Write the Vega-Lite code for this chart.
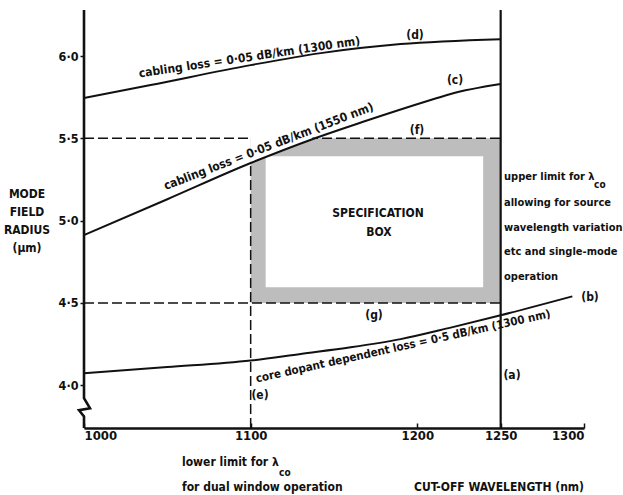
{
  "$schema": "https://vega.github.io/schema/vega-lite/v6.json",
  "width": 500,
  "height": 418,
  "autosize": {"type": "none"},
  "padding": {"left": 84, "top": 10, "right": 39, "bottom": 67},
  "config": {
    "view": {"stroke": null},
    "font": "DejaVu Sans Condensed, Liberation Sans, sans-serif",
    "text": {"font": "DejaVu Sans Condensed, Liberation Sans, sans-serif", "fontWeight": "bold", "fontSize": 12, "color": "#111"},
    "axis": {"labelFont": "DejaVu Sans Condensed, Liberation Sans, sans-serif", "labelFontWeight": "bold", "labelColor": "#111", "domainColor": "#111", "tickColor": "#111", "grid": false, "title": null}
  },
  "datasets": {
    "curves": [
      {"series": "d", "x": 1000, "y": 5.745},
      {"series": "d", "x": 1040, "y": 5.824},
      {"series": "d", "x": 1100, "y": 5.945},
      {"series": "d", "x": 1142, "y": 6.018},
      {"series": "d", "x": 1190, "y": 6.073},
      {"series": "d", "x": 1250, "y": 6.103},
      {"series": "c", "x": 1000, "y": 4.912},
      {"series": "c", "x": 1050, "y": 5.13},
      {"series": "c", "x": 1100, "y": 5.35},
      {"series": "c", "x": 1137, "y": 5.495},
      {"series": "c", "x": 1167, "y": 5.599},
      {"series": "c", "x": 1208, "y": 5.733},
      {"series": "c", "x": 1220, "y": 5.77},
      {"series": "c", "x": 1250, "y": 5.83},
      {"series": "b", "x": 1000, "y": 4.073},
      {"series": "b", "x": 1050, "y": 4.11},
      {"series": "b", "x": 1100, "y": 4.15},
      {"series": "b", "x": 1130, "y": 4.19},
      {"series": "b", "x": 1160, "y": 4.23},
      {"series": "b", "x": 1190, "y": 4.28},
      {"series": "b", "x": 1220, "y": 4.35},
      {"series": "b", "x": 1250, "y": 4.425},
      {"series": "b", "x": 1293, "y": 4.54}
    ],
    "yaxisline": [
      {"i": 1, "x": 1000, "y": 6.28},
      {"i": 2, "x": 1000, "y": 3.921},
      {"i": 3, "x": 1003.6, "y": 3.86},
      {"i": 4, "x": 997, "y": 3.848},
      {"i": 5, "x": 1000, "y": 3.81},
      {"i": 6, "x": 1000, "y": 3.74}
    ],
    "mask": [
      {"x": 1100, "y": 5.35},
      {"x": 1137, "y": 5.495}
    ]
  },
  "layer": [
    {
      "data": {"values": [{"x1": 1100, "x2": 1250, "y1": 4.5, "y2": 5.5}]},
      "mark": {"type": "rect", "color": "#bdbdbd"},
      "encoding": {
        "x": {"field": "x1", "type": "quantitative", "scale": {"domain": [1000, 1300], "nice": false, "zero": false},
              "axis": {"values": [1000, 1100, 1200, 1250, 1300], "format": "d", "labelFontSize": 13, "labelPadding": 6, "tickSize": -5, "tickWidth": 1.5, "domainWidth": 2.5}},
        "x2": {"field": "x2"},
        "y": {"field": "y1", "type": "quantitative", "scale": {"domain": [3.74, 6.28], "nice": false, "zero": false},
              "axis": {"values": [4, 4.5, 5, 5.5, 6], "domain": false, "labelFontSize": 12.5, "labelPadding": 2, "tickSize": 4, "tickWidth": 1.5, "labelExpr": "replace(format(datum.value, '.1f'), '.', '·')"}},
        "y2": {"field": "y2"}
      }
    },
    {
      "data": {"values": [{"x1": 1109, "x2": 1239.5, "y1": 4.596, "y2": 5.392}]},
      "mark": {"type": "rect", "color": "white"},
      "encoding": {
        "x": {"field": "x1", "type": "quantitative"},
        "x2": {"field": "x2"},
        "y": {"field": "y1", "type": "quantitative"},
        "y2": {"field": "y2"}
      }
    },
    {
      "data": {"values": [
        {"x1": 1000, "x2": 1250, "y1": 5.5, "y2": 5.5},
        {"x1": 1000, "x2": 1250, "y1": 4.5, "y2": 4.5},
        {"x1": 1100, "x2": 1100, "y1": 3.74, "y2": 5.35}
      ]},
      "mark": {"type": "rule", "color": "#111", "strokeWidth": 1.5, "strokeDash": [10, 4]},
      "encoding": {
        "x": {"field": "x1", "type": "quantitative"},
        "x2": {"field": "x2"},
        "y": {"field": "y1", "type": "quantitative"},
        "y2": {"field": "y2"}
      }
    },
    {
      "data": {"name": "mask"},
      "mark": {"type": "area", "color": "white", "opacity": 1},
      "encoding": {
        "x": {"field": "x", "type": "quantitative"},
        "y": {"field": "y", "type": "quantitative"},
        "y2": {"datum": 5.515}
      }
    },
    {
      "data": {"values": [{"x1": 1250, "x2": 1250, "y1": 3.74, "y2": 6.28}]},
      "mark": {"type": "rule", "color": "#111", "strokeWidth": 2.2},
      "encoding": {
        "x": {"field": "x1", "type": "quantitative"},
        "x2": {"field": "x2"},
        "y": {"field": "y1", "type": "quantitative"},
        "y2": {"field": "y2"}
      }
    },
    {
      "data": {"name": "yaxisline"},
      "mark": {"type": "line", "color": "#111", "strokeWidth": 2.6},
      "encoding": {
        "x": {"field": "x", "type": "quantitative"},
        "y": {"field": "y", "type": "quantitative"},
        "order": {"field": "i", "type": "quantitative"}
      }
    },
    {
      "data": {"name": "curves"},
      "mark": {"type": "line", "color": "#111", "strokeWidth": 2, "interpolate": "monotone"},
      "encoding": {
        "x": {"field": "x", "type": "quantitative"},
        "y": {"field": "y", "type": "quantitative"},
        "detail": {"field": "series"}
      }
    },
    {
      "data": {"values": [
        {"t": "(d)", "x": 1198.6, "y": 6.128},
        {"t": "(c)", "x": 1222.6, "y": 5.854},
        {"t": "(f)", "x": 1199.8, "y": 5.55},
        {"t": "SPECIFICATION", "x": 1176.4, "y": 5.046},
        {"t": "BOX", "x": 1177, "y": 4.93},
        {"t": "(g)", "x": 1174, "y": 4.426},
        {"t": "(a)", "x": 1256.8, "y": 4.06},
        {"t": "(e)", "x": 1105.6, "y": 3.939},
        {"t": "(b)", "x": 1303.6, "y": 4.535},
        {"t": "MODE", "x": 965.8, "y": 5.161},
        {"t": "FIELD", "x": 965.8, "y": 5.052},
        {"t": "RADIUS", "x": 965.8, "y": 4.942},
        {"t": "(μm)", "x": 965.8, "y": 4.833},
        {"t": "CUT-OFF WAVELENGTH (nm)", "x": 1249, "y": 3.38}
      ]},
      "mark": {"type": "text", "align": "center", "baseline": "middle"},
      "encoding": {
        "x": {"field": "x", "type": "quantitative"},
        "y": {"field": "y", "type": "quantitative"},
        "text": {"field": "t"}
      }
    },
    {
      "data": {"values": [
        {"t": "upper limit for λ", "x": 1252, "y": 5.264},
        {"t": "allowing for source", "x": 1252, "y": 5.106},
        {"t": "wavelength variation", "x": 1252, "y": 4.954},
        {"t": "etc and single-mode", "x": 1252, "y": 4.809},
        {"t": "operation", "x": 1252, "y": 4.657}
      ]},
      "mark": {"type": "text", "align": "left", "baseline": "middle", "fontSize": 11},
      "encoding": {
        "x": {"field": "x", "type": "quantitative"},
        "y": {"field": "y", "type": "quantitative"},
        "text": {"field": "t"}
      }
    },
    {
      "data": {"values": [
        {"t": "lower limit for λ", "x": 1058.8, "y": 3.532},
        {"t": "for dual window operation", "x": 1058.8, "y": 3.38}
      ]},
      "mark": {"type": "text", "align": "left", "baseline": "middle"},
      "encoding": {
        "x": {"field": "x", "type": "quantitative"},
        "y": {"field": "y", "type": "quantitative"},
        "text": {"field": "t"}
      }
    },
    {
      "data": {"values": [
        {"t": "co", "x": 1309.5, "y": 5.215},
        {"t": "co", "x": 1120.5, "y": 3.468}
      ]},
      "mark": {"type": "text", "align": "center", "baseline": "middle", "fontSize": 10},
      "encoding": {
        "x": {"field": "x", "type": "quantitative"},
        "y": {"field": "y", "type": "quantitative"},
        "text": {"field": "t"}
      }
    },
    {
      "data": {"values": [{"t": "cabling loss = 0·05 dB/km (1300 nm)", "x": 1099.6, "y": 5.97}]},
      "mark": {"type": "text", "align": "center", "baseline": "alphabetic", "angle": 351.5},
      "encoding": {
        "x": {"field": "x", "type": "quantitative"},
        "y": {"field": "y", "type": "quantitative"},
        "text": {"field": "t"}
      }
    },
    {
      "data": {"values": [{"t": "cabling loss = 0·05 dB/km (1550 nm)", "x": 1111.6, "y": 5.429}]},
      "mark": {"type": "text", "align": "center", "baseline": "alphabetic", "angle": 339},
      "encoding": {
        "x": {"field": "x", "type": "quantitative"},
        "y": {"field": "y", "type": "quantitative"},
        "text": {"field": "t"}
      }
    },
    {
      "data": {"values": [{"t": "core dopant dependent loss = 0·5 dB/km (1300 nm)", "x": 1192, "y": 4.215}]},
      "mark": {"type": "text", "align": "center", "baseline": "alphabetic", "angle": 347.5, "fontSize": 11.5},
      "encoding": {
        "x": {"field": "x", "type": "quantitative"},
        "y": {"field": "y", "type": "quantitative"},
        "text": {"field": "t"}
      }
    }
  ]
}
